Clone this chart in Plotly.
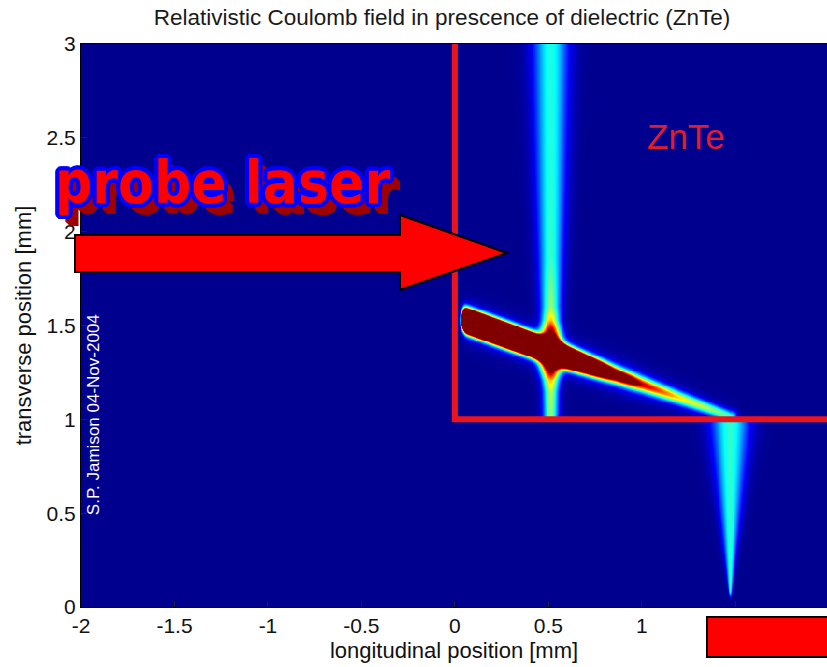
import numpy as np
import plotly.graph_objects as go

# ---------------------------------------------------------------- axes (mm)
X_RANGE = [-2.0, 1.99]
Y_RANGE = [0.0, 3.0]
X_TICKS = [-2, -1.5, -1, -0.5, 0, 0.5, 1, 1.5]
X_TICK_TEXT = ["-2", "-1.5", "-1", "-0.5", "0", "0.5", "1", "1.5"]
Y_TICKS = [0, 0.5, 1, 1.5, 2, 2.5, 3]
Y_TICK_TEXT = ["0", "0.5", "1", "1.5", "2", "2.5", "3"]

# ZnTe crystal occupies x >= ZNTE_X0, y >= ZNTE_Y0
ZNTE_X0 = 0.0
ZNTE_Y0 = 1.0

# Coulomb pancake inside the crystal (ridge along y at fixed x)
LINE_X = 0.51
LINE_Y = [1.00, 1.15, 1.21, 1.26, 1.36, 1.47, 1.53, 1.60, 1.85, 2.30, 3.00]
LINE_AMP = [0.50, 0.55, 0.68, 1.00, 1.80, 1.00, 0.68, 0.52, 0.43, 0.41, 0.40]
LINE_WIDTH = [0.028, 0.029, 0.032, 0.036, 0.040, 0.036, 0.034, 0.036, 0.044, 0.054, 0.066]

# Oblique wake inside the crystal (centre line, peak and width along x)
BAND_X = [0.045, 0.30, 0.55, 0.70, 0.85, 1.00, 1.20, 1.47]
BAND_Y = [1.532, 1.440, 1.350, 1.296, 1.242, 1.188, 1.116, 1.019]
BAND_AMP = [8.0, 7.5, 6.0, 3.0, 1.3, 0.80, 0.55, 0.38]
BAND_WIDTH = [0.032, 0.032, 0.031, 0.030, 0.028, 0.027, 0.024, 0.020]
BAND_HALO = 0.18  # faint skirt around the wake

# Vacuum field cone below the crystal
CONE_X = 1.47
CONE_Y = [0.05, 1.00]
CONE_AMP = [0.42, 0.42]
CONE_WIDTH = [0.004, 0.072]

# MATLAB-style jet colormap
JET = [
    [0.000, "rgb(0,0,143)"],
    [0.125, "rgb(0,0,255)"],
    [0.375, "rgb(0,255,255)"],
    [0.625, "rgb(255,255,0)"],
    [0.875, "rgb(255,0,0)"],
    [1.000, "rgb(128,0,0)"],
]

# ---------------------------------------------------------------- field map
step = 0.005
x = np.arange(X_RANGE[0], X_RANGE[1] + 1e-9, step)
y = np.arange(Y_RANGE[0], Y_RANGE[1] + 1e-9, step)
X, Y = np.meshgrid(x, y)

in_crystal = (X >= ZNTE_X0) & (Y >= ZNTE_Y0)

a_line = np.interp(Y, LINE_Y, LINE_AMP)
w_line = np.interp(Y, LINE_Y, LINE_WIDTH)
pancake = a_line * np.exp(-0.5 * ((X - LINE_X) / w_line) ** 2) * in_crystal

yc = np.interp(X, BAND_X, BAND_Y)
a_band = np.interp(X, BAND_X, BAND_AMP)
w_band = np.interp(X, BAND_X, BAND_WIDTH)
ends = 1.0 / (1.0 + np.exp(-(X - BAND_X[0]) / 0.006)) / (1.0 + np.exp((X - 1.50) / 0.01))
core = a_band * np.exp(-0.5 * ((Y - yc) / w_band) ** 2)
skirt = BAND_HALO * np.minimum(a_band, 1.0) * np.exp(-0.5 * ((Y - yc) / (2.0 * w_band)) ** 2)
wake = (core + skirt) * ends * in_crystal

a_cone = np.interp(Y, CONE_Y, CONE_AMP)
w_cone = np.interp(Y, CONE_Y, CONE_WIDTH)
tip = 1.0 / (1.0 + np.exp(-(Y - 0.065) / 0.008))
cone = a_cone * np.exp(-0.5 * ((X - CONE_X) / w_cone) ** 2) * tip * (Y < ZNTE_Y0)

field = np.clip(pancake + wake + cone, 0.0, 1.0).astype(np.float32)

fig = go.Figure(
    go.Heatmap(
        x=x, y=y, z=field,
        colorscale=JET, zmin=0, zmax=1,
        zsmooth="best", showscale=False, hoverinfo="skip",
    )
)

# ---------------------------------------------------------------- decorations
RED = "rgb(235,20,30)"
PX_L, PX_W, PX_B, PX_H = 81, 746, 607, 563  # plot box in pixels


def px(u):
    return (u - PX_L) / PX_W


def py(v):
    return (PX_B - v) / PX_H


arrow = [(75, 235), (400, 235), (400, 215), (507, 253), (400, 290), (400, 272), (75, 272)]
arrow_path = "M " + " L ".join(f"{px(a):.4f},{py(b):.4f}" for a, b in arrow) + " Z"

fig.add_shape(
    type="path",
    path=f"M {ZNTE_X0},{Y_RANGE[1]} L {ZNTE_X0},{ZNTE_Y0} L {X_RANGE[1] + 0.2},{ZNTE_Y0}",
    xref="x", yref="y", line=dict(color=RED, width=6), layer="above",
)
fig.add_shape(
    type="path", path=arrow_path, xref="paper", yref="paper",
    fillcolor="rgb(255,0,0)", line=dict(color="black", width=2), layer="above",
)
fig.add_shape(
    type="rect", xref="paper", yref="paper",
    x0=px(707), x1=px(835), y0=py(657), y1=py(617),
    fillcolor="rgb(255,0,0)", line=dict(color="black", width=2), layer="above",
)

# blue outline ring, then a dark red drop shadow underneath
outline = ", ".join(
    f"{4 * np.cos(t):.2f}px {4 * np.sin(t):.2f}px 0 rgb(0,0,255)"
    for t in np.linspace(0, 2 * np.pi, 20, endpoint=False)
)
drop = ", ".join(f"{d}px {d + 1}px 0 rgb(160,0,0)" for d in range(6, 11))
shadow = outline + ", " + drop

fig.add_annotation(
    text="probe laser", xref="paper", yref="paper", x=px(222), y=py(183),
    xanchor="center", yanchor="middle", showarrow=False,
    font=dict(family="DejaVu Sans Condensed, sans-serif",
              size=58, color="rgb(255,0,0)", weight="bold", shadow=shadow),
)
fig.add_annotation(
    text="ZnTe", x=1.238, y=2.509, xref="x", yref="y", showarrow=False,
    font=dict(family="Liberation Sans, Arial, sans-serif", size=35, color="rgb(225,30,40)"),
)
fig.add_annotation(
    text="S.P. Jamison 04-Nov-2004", x=-1.935, y=1.023, xref="x", yref="y",
    textangle=-90, showarrow=False,
    font=dict(family="Liberation Sans, Arial, sans-serif", size=17, color="white"),
)

FONT = "Liberation Sans, Arial, sans-serif"
axis_common = dict(
    ticks="inside", ticklen=6, tickcolor="#222", showline=True, linecolor="black",
    linewidth=1, mirror=True, showgrid=False, zeroline=False, automargin=False,
    tickfont=dict(family=FONT, size=21, color="#111"),
)

fig.update_layout(
    width=827, height=667,
    margin=dict(l=PX_L, r=0, t=44, b=60),
    paper_bgcolor="white", plot_bgcolor="rgb(0,0,143)",
    title=dict(
        text="Relativistic Coulomb field in prescence of dielectric (ZnTe)",
        x=px(442), xref="paper", xanchor="center",
        y=1 - 17 / 667, yref="container", yanchor="middle",
        font=dict(family=FONT, size=22.5, color="#1a1a1a"),
    ),
    xaxis=dict(range=X_RANGE, tickvals=X_TICKS, ticktext=X_TICK_TEXT,
               title=dict(text="longitudinal position [mm]", standoff=6,
                          font=dict(family=FONT, size=22, color="#111")),
               **axis_common),
    yaxis=dict(range=Y_RANGE, tickvals=Y_TICKS, ticktext=Y_TICK_TEXT,
               title=dict(text="transverse position [mm]", standoff=8,
                          font=dict(family=FONT, size=22, color="#111")),
               **axis_common),
    showlegend=False,
)

fig.write_html("out.html")
